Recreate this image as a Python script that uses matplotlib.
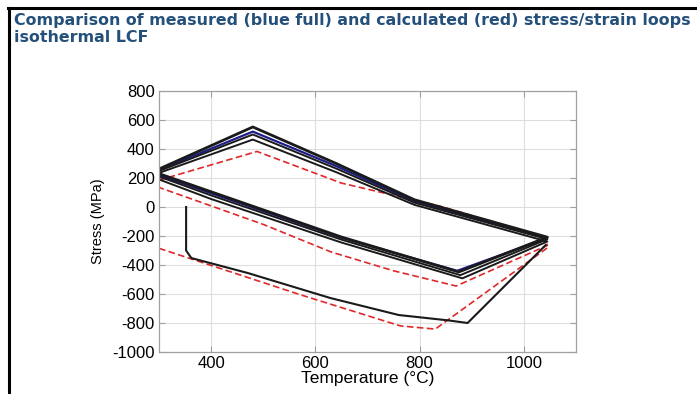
import matplotlib
matplotlib.use("Agg")
import matplotlib.pyplot as plt
from matplotlib.lines import Line2D

plt.rcParams['font.family'] = ['Liberation Sans', 'DejaVu Sans']
plt.rcParams['axes.unicode_minus'] = False

# ---- data ----
# stabilised measured loops (black), closed polygons: T (°C), stress (MPa)
loopA_T = [300, 480, 640, 790, 1045, 875, 650, 400, 300, 300]
loopA_S = [262, 552, 300, 50, -208, -448, -207, 105, 230, 262]
loopB_T = [300, 480, 640, 790, 1045, 878, 650, 400, 300, 300]
loopB_S = [248, 500, 265, 30, -222, -470, -225, 80, 210, 248]
loopC_T = [300, 480, 640, 790, 1045, 882, 650, 400, 300, 300]
loopC_S = [235, 465, 240, 15, -238, -492, -245, 55, 190, 235]
# blue measured loop
blue_T = [300, 480, 640, 790, 1045, 872, 650, 400, 300, 300]
blue_S = [255, 520, 282, 40, -215, -440, -212, 95, 220, 255]
# first measured cycle (black)
first_T = [352, 352, 362, 470, 571, 629, 760, 855, 892, 1042]
first_S = [0, -300, -352, -455, -565, -628, -745, -782, -800, -262]
# calculated loop (red dashed), stabilised
red_T = [300, 488, 650, 840, 1042, 1045, 870, 750, 630, 500, 300, 300]
red_S = [185, 383, 165, 5, -212, -265, -545, -440, -310, -120, 135, 185]
# calculated first cycle (red dashed)
redfirst_T = [300, 571, 763, 830, 1045]
redfirst_S = [-285, -605, -820, -842, -282]

x_ticks = [400, 600, 800, 1000]
y_ticks = [800, 600, 400, 200, 0, -200, -400, -600, -800, -1000]

title_line1 = "Comparison of measured (blue full) and calculated (red) stress/strain loops"
title_line2 = "isothermal LCF"

# ---- figure ----
fig = plt.figure(figsize=(6.97, 3.94), dpi=100)
fig.patch.set_facecolor('white')

# slide frame
fig.add_artist(Line2D([9/697, 9/697], [0, 1 - 8/394], transform=fig.transFigure,
                      color='black', lw=2.2))
fig.add_artist(Line2D([8/697, 1], [1 - 8/394, 1 - 8/394], transform=fig.transFigure,
                      color='black', lw=2.2))

title_color = '#24507a'
fig.text(14/697, 1 - 25/394, title_line1, fontsize=11.45, fontweight='bold',
         family='DejaVu Sans', color=title_color, ha='left', va='baseline')
fig.text(14/697, 1 - 42/394, title_line2, fontsize=11.45, fontweight='bold',
         family='DejaVu Sans', color=title_color, ha='left', va='baseline')

ax = fig.add_axes([159/697, 1 - 352/394, (576 - 159)/697, (352 - 91)/394])
ax.set_xlim(300, 1100)
ax.set_ylim(-1000, 800)
ax.set_xticks(x_ticks)
ax.set_yticks(y_ticks)
ax.grid(True, color='#dedede', lw=0.8)
ax.set_axisbelow(True)
for s in ax.spines.values():
    s.set_color('#a0a0a0')
    s.set_linewidth(0.9)
ax.tick_params(direction='in', length=4, color='#a0a0a0', labelsize=12,
               top=True, right=True, pad=3)

red = '#e0282a'
ax.plot(redfirst_T, redfirst_S, color=red, lw=1.2, ls=(0, (4, 2)))
ax.plot(red_T, red_S, color=red, lw=1.2, ls=(0, (4, 2)))
ax.plot(first_T, first_S, color='#1a1a1a', lw=1.5)
ax.plot(loopC_T, loopC_S, color='#1a1a1a', lw=1.4)
ax.plot(blue_T, blue_S, color='#1c1c8a', lw=1.6)
ax.plot(loopB_T, loopB_S, color='#1a1a1a', lw=1.4)
ax.plot(loopA_T, loopA_S, color='#1a1a1a', lw=2.0)

ax.set_xlabel("Temperature (°C)", fontsize=12.5, labelpad=0)
ax.set_ylabel("Stress (MPa)", fontsize=10.5)
ax.yaxis.set_label_coords(-0.13, 0.5)

fig.savefig("out.png", dpi=100)
